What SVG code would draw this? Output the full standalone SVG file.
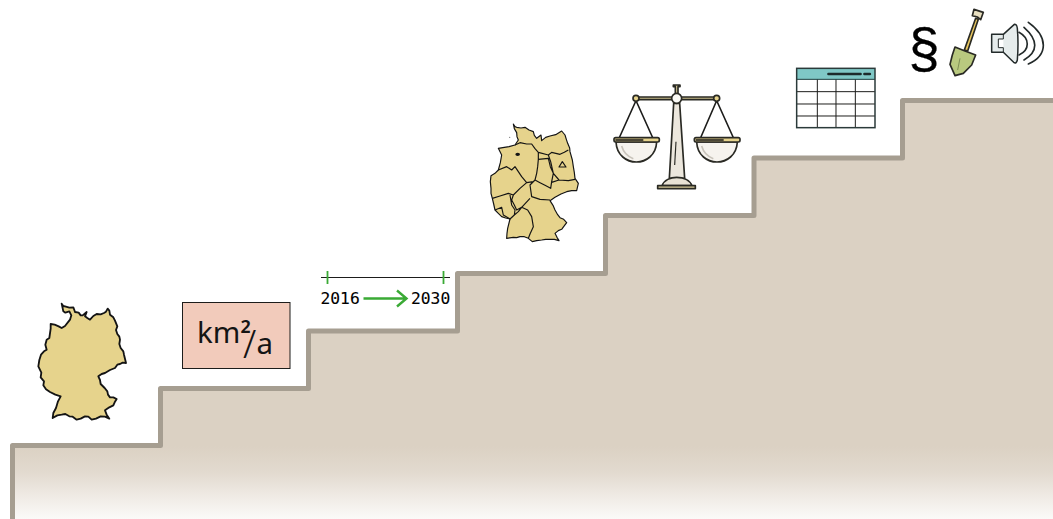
<svg xmlns="http://www.w3.org/2000/svg" width="1053" height="519" viewBox="0 0 1053 519">
<style>
.z{transform:scale(.33333)}
.map{fill:#e6d38c;stroke:#141414;stroke-linejoin:round}
.ink{stroke:#2a2a24;stroke-width:5;stroke-linejoin:round;stroke-linecap:round}
.line{fill:none;stroke:#1d1d1b;stroke-width:4.500;stroke-linecap:round;stroke-linejoin:round}
.tl{fill:#000;font-family:"DejaVu Sans Mono",monospace;font-size:16.300px;stroke:#000;stroke-width:.1}
.km{font-family:"Noto Sans",sans-serif;fill:#141414}
</style>
<defs>
<linearGradient id="body" gradientUnits="userSpaceOnUse" x1="0" y1="0" x2="0" y2="519">
<stop offset="0" stop-color="#dbd1c3"/><stop offset=".86" stop-color="#dbd1c3"/><stop offset=".91" stop-color="#e2dacf"/><stop offset=".955" stop-color="#efeae4"/><stop offset="1" stop-color="#fbfaf8"/>
</linearGradient>
</defs>
<g id="stairs">
<path d="M12.500 519V445.500H160.500V388.500H308.500V331H457.500V273.500H605.500V215.500H754V158H902.500V100.500H1053V519Z" fill="url(#body)"/>
<path d="M12.500 519V445.500H160.500V388.500H308.500V331H457.500V273.500H605.500V215.500H754V158H902.500V100.500H1053" fill="none" stroke="#a69e91" stroke-width="5" stroke-linejoin="round"/>
</g>
<g id="germany" transform="translate(30 298)">
<path class="z map" stroke-width="5.500" d="M95 17L100 24L105 25L118 29L130 28L133 36L135 42L146 44L152 52L158 52L170 42L165 55L172 60L180 65L190 54L200 48L212 49L222 45L228 41L233 32L238 38L240 50L250 58L255 68L262 85L258 96L262 108L268 116L270 125L268 138L272 150L280 160L282 170L288 195L278 194L270 198L262 200L255 210L240 216L225 225L215 228L205 235L210 246L212 258L224 270L232 280L234 290L240 298L250 298L260 303L254 313L250 322L238 328L225 337L230 350L238 362L225 356L212 355L198 362L185 365L175 356L165 355L152 362L140 365L128 356L118 355L106 348L95 350L82 352L68 360L70 345L78 330L84 310L92 295L76 290L60 282L48 274L40 262L42 250L32 238L34 224L25 205L28 186L33 170L42 160L50 155L46 140L50 125L58 120L62 92L62 78L74 80L86 85L95 90L105 84L120 65L124 52L118 40L106 44L100 40Z"/>
</g>
<g id="unit">
<rect x="182.500" y="302.500" width="107.500" height="66" fill="#f2cbbb" stroke="#1d1d1b" stroke-width="1"/>
<text class="km" font-size="29.500"><tspan x="197" y="342.500">km</tspan><tspan x="240.500" y="345" font-weight="500">²</tspan><tspan x="243" y="358" font-size="38" font-weight="300">/</tspan><tspan x="256.500" y="354">a</tspan></text>
</g>
<g id="timeline">
<path d="M321 277.500H450" stroke="#1d1d1b" stroke-width="1.200"/>
<path d="M327.500 271V284M443.500 271V284" stroke="#3aaa35" stroke-width="1.800"/>
<text class="tl" x="320.500" y="304">2016</text>
<text class="tl" x="411" y="304">2030</text>
<path d="M363.500 298.500H405M397 290.500L406.500 298.500L397 306.500" fill="none" stroke="#3aaa35" stroke-width="2.400"/>
</g>
<g id="germany-states" transform="translate(485 120)">
<g class="z">
<path class="map" stroke-width="3.500" d="M85 12L90 20L95 22L108 24L120 22L132 30L145 35L148 46L155 55L168 45L170 62L182 52L195 48L212 44L230 33L240 45L244 58L248 70L254 84L255 95L262 120L265 140L268 158L270 175L280 190L275 212L260 212L245 215L228 222L210 232L195 242L204 256L210 270L218 284L225 293L236 298L245 308L236 320L230 328L220 332L210 340L216 352L222 362L208 358L195 358L182 358L170 360L155 362L142 365L130 355L118 350L105 350L95 353L85 352L65 355L66 340L68 325L75 297L62 294L50 290L40 280L30 270L26 252L22 235L18 220L18 205L16 185L18 167L30 160L40 150L46 128L50 105L40 85L58 82L72 80L90 75L100 60L96 50L95 38L88 26Z"/>
<path fill="none" stroke="#141414" stroke-width="3.500" stroke-linejoin="round" d="M90 75L105 68L125 72L140 72L150 86L160 97L190 105L200 97L225 103L238 97L250 90M160 97V118L158 140L155 160L150 180L145 185L125 188M160 118L190 115L196 140L205 160L200 185L197 205L180 196L165 188L150 180L135 195L140 230L165 238L195 240M190 105L197 125L205 160L222 180L250 182L270 178M222 180L200 187M40 150L65 140L80 150L90 140L100 155L110 170L125 188L105 205L85 225L80 240L88 255L95 270L110 262L135 235M22 235L45 228L70 220L85 225M75 225L80 255L90 270L88 285L75 297M30 270L50 262L55 285L75 297M110 262L128 270L140 290L145 320L136 340L130 355M88 285L100 275L110 262"/>
<path d="M232 125L243 141H222Z" fill="#e6d38c" stroke="#141414" stroke-width="3.500" stroke-linejoin="round"/>
<ellipse cx="98" cy="103" rx="7" ry="5" fill="#141414"/>
<circle cx="74" cy="52" r="2" fill="#777"/>
</g>
</g>
<g id="scales" transform="translate(600 70)">
<g class="z">
<path class="line" d="M108 92L58 203M108 92L158 203M350 92L302 203M350 92L400 203"/>
<path class="ink" fill="#d8cb9a" d="M220 45H240V50H234V72H226V50H220Z"/>
<rect class="ink" x="108" y="81" width="242" height="8" fill="#c9bd8a"/>
<circle class="ink" cx="108" cy="85" r="9" fill="#e6d38c"/>
<circle class="ink" cx="350" cy="85" r="9" fill="#e6d38c"/>
<path class="ink" fill="#ece7dd" d="M221 100H239L254 325H208Z"/>
<path d="M228 215L224 285" stroke="#2a2a24" stroke-width="3.500"/>
<circle class="ink" cx="230" cy="85" r="15" fill="#fbfaf6"/>
<path class="ink" fill="#e8e2d5" d="M186 347C192 330 212 322 230 322C250 322 270 330 276 347Z"/>
<rect class="ink" x="173" y="347" width="113" height="9" fill="#d8cb9a"/>
<path class="ink" fill="#f6f3ee" d="M48 216C50 256 80 276 109 276C138 276 168 256 170 216Z"/>
<path d="M65 228C70 246 84 260 100 266" fill="none" stroke="#c9c4bb" stroke-width="5"/>
<rect class="ink" x="42" y="203" width="136" height="13" rx="5" fill="#e6d38c"/>
<rect x="46" y="207" width="84" height="6" fill="#4b4636"/>
<path class="ink" fill="#f6f3ee" d="M290 216C292 256 322 276 351 276C380 276 410 256 412 216Z"/>
<path d="M305 228C310 246 324 260 340 266" fill="none" stroke="#c9c4bb" stroke-width="5"/>
<rect class="ink" x="283" y="203" width="137" height="13" rx="5" fill="#e6d38c"/>
<rect x="287" y="207" width="84" height="6" fill="#4b4636"/>
</g>
</g>
<g id="table" transform="translate(780 0)">
<g class="z">
<rect x="50" y="205" width="235" height="178" fill="#fff"/>
<rect x="50" y="205" width="235" height="33" fill="#7fc8c6"/>
<path d="M112 238V383M168 238V383M226 238V383M50 275H285M50 312H285M50 348H285" stroke="#1d1d1b" stroke-width="3"/>
<path d="M50 238H285" stroke="#1d3f3f" stroke-width="3"/>
<rect x="50" y="205" width="235" height="178" fill="none" stroke="#2b3a3a" stroke-width="4.500"/>
<path d="M145 222H242M253 222H270" stroke="#1d2b2b" stroke-width="7" stroke-linecap="round"/>
</g>
</g>
<g id="law">
<text x="908.500" y="67" font-family="'Liberation Sans',Arial,sans-serif" font-size="56" fill="#000" stroke="#000" stroke-width=".3">§</text>
</g>
<g id="shovel" transform="translate(945 5)">
<g class="z">
<path class="ink" fill="#e9c75f" d="M92 40L100 43L68 138L58 135Z"/>
<path class="ink" fill="#e8dfc0" d="M87 13L115 22L107 44L97 36L82 32Z"/>
<path class="ink" fill="#b9c97f" d="M30 126L58 137L92 150L80 180L55 205L30 212L15 178L22 150Z"/>
<path d="M45 160L38 195" stroke="#7f8f55" stroke-width="3"/>
</g>
</g>
<g id="speaker" transform="translate(945 5)">
<g class="z">
<path d="M140 88H175L208 58Q216 58 217 70Q221 115 217 165Q214 178 206 172L175 142H140Z" fill="#e6ecec" stroke="#232a2a" stroke-width="4.500" stroke-linejoin="round"/>
<path d="M175 88V102H160V128H175V142" fill="#fff" stroke="#232a2a" stroke-width="3"/>
<path d="M222 82C255 100 255 135 222 150M237 67C280 105 280 140 237 165M250 52C310 95 310 150 250 177" fill="none" stroke="#232a2a" stroke-width="5" stroke-linecap="round"/>
</g>
</g>
</svg>
